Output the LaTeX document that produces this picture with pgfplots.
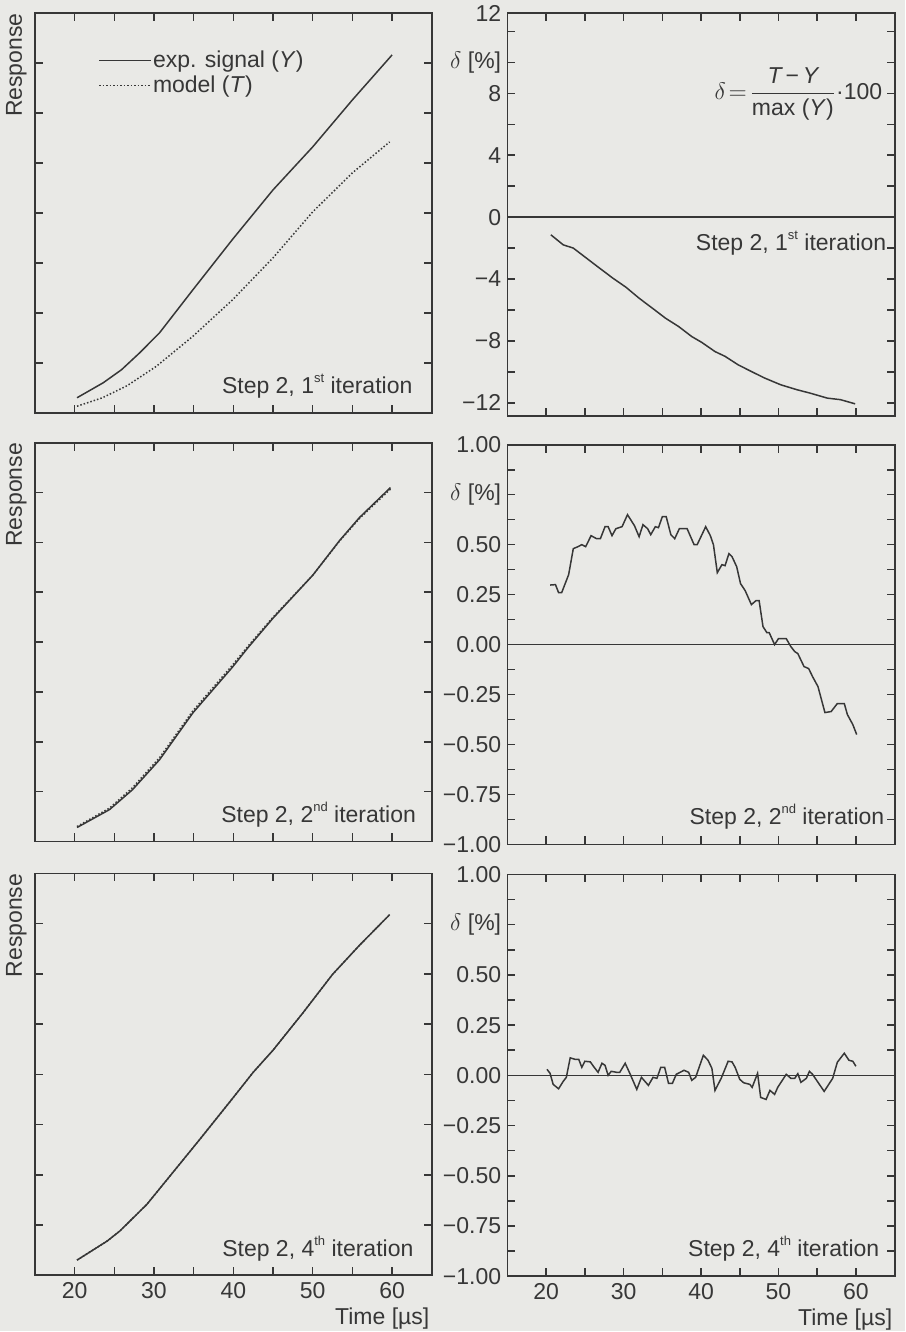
\documentclass[border=0pt]{standalone}
\usepackage{amsmath}
\usepackage{fontspec}
\setmainfont{Liberation Sans}
\usepackage{pgfplots}
\pgfplotsset{compat=1.18}

\definecolor{ink}{RGB}{55,55,55}
\definecolor{paper}{RGB}{233,233,230}
\newcommand{\lbl}{\fontsize{11.5}{13}\selectfont}
\newcommand{\sups}[1]{\raisebox{0.9ex}{\fontsize{6.5}{7}\selectfont #1}}

\tikzset{stepnote/.style={anchor=south east, inner sep=0pt, ink, font=\lbl}}

\pgfplotsset{
  panel/.style={
    scale only axis, clip=false,
    xmin=15, xmax=65,
    xtick={20,30,40,50,60}, minor xtick={25,35,45,55},
    tick align=inside, major tick length=4pt, minor tick length=4pt,
    axis line style={ink, line width=0.9pt},
    tick style={ink, line width=0.8pt},
    tick label style={ink, font=\lbl},
    label style={ink, font=\lbl},
    /pgf/number format/assume math mode=true,
  },
  left panel/.style={
    panel, width=198.5pt, ymin=0, ymax=8,
    ytick={1,2,3,4,5,6,7}, yticklabels={},
    ylabel={Response},
    ylabel style={at={([xshift=-4pt]rel axis cs:0,1)}, anchor=south east, inner sep=0pt},
  },
  right panel/.style={
    panel, width=193.7pt,
    yticklabel style={inner sep=1pt, xshift=-2pt},
  },
  unit panel/.style={
    right panel, ymin=-1, ymax=1,
    ytick={-1,-0.75,-0.5,-0.25,0,0.25,0.5,0.75,1},
    yticklabels={−1.00,−0.75,−0.50,−0.25,0.00,0.25,0.50,{$\delta$ [\%]},1.00},
    minor y tick num=1,
  },
  bottom row/.style={
    xlabel={Time [µs]},
    xlabel style={at={(ticklabel cs:1)}, anchor=north east, inner sep=1pt},
  },
  curve/.style={ink, line width=0.75pt},
}

\begin{document}
\begin{tikzpicture}
\fill[paper] (-17.5pt,6.5pt) rectangle (435.5pt,-659.5pt);

% top left
\begin{axis}[left panel, at={(0pt,0pt)}, anchor=north west, height=200pt,
  xticklabels={},
  legend style={draw=none, fill=none, at={(rel axis cs:0,1)}, anchor=north west,
    xshift=28.5pt, yshift=-16pt, font=\lbl, text=ink, row sep=1.5pt,
    nodes={inner sep=0.6pt}},
  legend cell align=left,
  legend image code/.code={\draw[#1] (0pt,0pt) -- (26pt,0pt);},
]
\addplot[curve] coordinates {
  (20.3,0.30)(23.6,0.60)(25.9,0.86)(28.2,1.20)(30.7,1.60)(34.9,2.46)
  (39.9,3.47)(45.0,4.46)(50.0,5.32)(55.0,6.26)(60.0,7.16)
};
\addlegendentry{exp. signal (\textit{Y})}
\addplot[curve, densely dotted] coordinates {
  (20.3,0.13)(23.5,0.30)(26.6,0.54)(30.3,0.93)(34.9,1.53)(39.9,2.26)
  (45.0,3.10)(50.0,4.02)(55.0,4.80)(59.7,5.42)
};
\addlegendentry{model (\textit{T})}
\node[stepnote] at ([xshift=-9.5pt,yshift=7pt]rel axis cs:1,0) {Step 2, 1\sups{st} iteration};
\end{axis}

% top right
\begin{axis}[right panel, at={(236.4pt,0pt)}, anchor=north west, height=201.5pt,
  ymin=-12.84, ymax=13.2,
  ytick={-12,-8,-4,0,4,8,10,12},
  yticklabels={−12,−8,−4,0,4,8,{$\delta$ [\%]},{}},
  minor ytick={-10,-6,-2,2,6},
  xticklabels={},
]
\addplot[curve] coordinates {(15,0)(65,0)};
\addplot[curve] coordinates {
  (20.6,-1.14)(22.2,-1.79)(23.5,-2.00)(25.2,-2.65)(26.9,-3.30)(28.6,-3.94)
  (30.3,-4.53)(32.0,-5.24)(33.7,-5.88)(35.4,-6.53)(37.1,-7.07)(38.8,-7.72)
  (40.1,-8.10)(41.8,-8.69)(43.1,-9.00)(44.8,-9.55)(46.5,-9.98)(48.2,-10.40)
  (50.3,-10.84)(52.4,-11.16)(54.1,-11.38)(56.3,-11.70)(58.0,-11.80)(59.9,-12.07)
};
\node[anchor=east, inner sep=0pt, ink, font=\lbl] at ([xshift=-3pt]rel axis cs:0,1) {12};
\node[anchor=north east, inner sep=0pt, ink, font=\lbl] at ([xshift=-6pt,yshift=-27pt]rel axis cs:1,1)
  {$\delta\!=\!\dfrac{\textit{T}\,\text{−}\,\textit{Y}}{\text{max (\textit{Y})}}\text{·100}$};
\node[anchor=north east, inner sep=0pt, ink, font=\lbl] at ([xshift=-4pt,yshift=-7pt]axis cs:65,0)
  {Step 2, 1\sups{st} iteration};
\end{axis}

% middle left
\begin{axis}[left panel, at={(0pt,-215pt)}, anchor=north west, height=199.5pt,
  xticklabels={},
]
\addplot[curve] coordinates {
  (20.3,0.28)(24.4,0.64)(27.3,1.04)(30.7,1.64)(34.9,2.58)(39.9,3.50)
  (41.8,3.88)(45.0,4.48)(50.0,5.34)(53.4,6.04)(55.9,6.50)(59.8,7.10)
};
\addplot[curve, densely dotted] coordinates {
  (20.3,0.30)(24.4,0.67)(27.3,1.08)(30.7,1.68)(34.9,2.62)(39.9,3.54)
  (41.8,3.91)(45.0,4.50)(50.0,5.34)(53.4,6.03)(55.9,6.48)(59.8,7.07)
};
\node[stepnote] at ([xshift=-7.7pt,yshift=7pt]rel axis cs:1,0) {Step 2, 2\sups{nd} iteration};
\end{axis}

% middle right
\begin{axis}[unit panel, at={(236.4pt,-216pt)}, anchor=north west, height=200pt,
  xticklabels={},
]
\addplot[curve] coordinates {(15,0)(65,0)};
\addplot[curve] coordinates {
  (20.5,0.298)(21.2,0.30)(21.6,0.26)(22.0,0.26)(22.9,0.35)(23.5,0.48)
  (24.1,0.49)(24.6,0.50)(25.1,0.49)(25.8,0.545)(26.5,0.53)(27.0,0.53)
  (27.6,0.59)(28.0,0.59)(28.5,0.545)(29.0,0.58)(29.8,0.59)(30.5,0.65)
  (31.4,0.595)(32.0,0.54)(32.5,0.60)(33.1,0.58)(33.5,0.55)(34.1,0.59)
  (34.5,0.585)(35.0,0.64)(35.5,0.64)(36.1,0.55)(36.6,0.53)(37.2,0.58)
  (38.2,0.58)(39.1,0.50)(39.5,0.50)(40.6,0.59)(41.2,0.545)(41.6,0.50)
  (42.1,0.36)(42.7,0.40)(43.1,0.395)(43.6,0.455)(44.0,0.44)(44.6,0.39)
  (45.1,0.305)(45.7,0.27)(46.5,0.20)(47.1,0.22)(47.5,0.22)(48.0,0.09)
  (48.5,0.06)(48.8,0.06)(49.5,0.00)(50.0,0.03)(51.0,0.03)(51.6,-0.01)
  (52.1,-0.035)(52.5,-0.045)(53.3,-0.11)(53.9,-0.12)(54.4,-0.16)(55.1,-0.21)
  (56.0,-0.34)(56.8,-0.335)(57.6,-0.295)(58.5,-0.295)(58.9,-0.35)(59.6,-0.40)
  (60.1,-0.45)
};
\node[stepnote] at ([xshift=-5pt,yshift=7.5pt]rel axis cs:1,0) {Step 2, 2\sups{nd} iteration};
\end{axis}

% bottom left
\begin{axis}[left panel, bottom row, at={(0pt,-430.5pt)}, anchor=north west, height=201pt]
\addplot[curve] coordinates {
  (20.3,0.30)(24.1,0.68)(25.7,0.88)(29.1,1.41)(32.4,2.05)(35.8,2.71)
  (39.9,3.52)(42.5,4.04)(45.0,4.48)(48.8,5.23)(52.5,5.99)(55.9,6.57)(59.7,7.18)
};
\addplot[curve, densely dotted] coordinates {
  (20.3,0.30)(24.1,0.68)(25.7,0.88)(29.1,1.41)(32.4,2.05)(35.8,2.71)
  (39.9,3.52)(42.5,4.04)(45.0,4.48)(48.8,5.23)(52.5,5.99)(55.9,6.57)(59.7,7.18)
};
\node[stepnote] at ([xshift=-9pt,yshift=7pt]rel axis cs:1,0) {Step 2, 4\sups{th} iteration};
\end{axis}

% bottom right
\begin{axis}[unit panel, bottom row, at={(236.4pt,-431pt)}, anchor=north west, height=201pt]
\addplot[curve] coordinates {(15,0)(65,0)};
\addplot[curve] coordinates {
  (20.1,0.03)(20.5,0.01)(20.9,-0.045)(21.6,-0.067)(22.2,-0.03)(22.6,-0.01)
  (23.1,0.087)(23.7,0.08)(24.2,0.08)(24.6,0.04)(25.0,0.07)(25.7,0.067)
  (26.1,0.045)(26.7,0.015)(27.2,0.06)(27.6,0.05)(28.0,0.00)(28.4,0.02)
  (29.1,0.015)(29.5,0.015)(30.2,0.06)(30.8,0.01)(31.7,-0.07)(32.3,-0.01)
  (33.2,-0.05)(33.8,-0.01)(34.3,-0.015)(34.8,0.04)(35.3,0.04)(35.8,-0.04)
  (36.3,-0.04)(36.8,0.005)(37.8,0.025)(38.4,0.015)(38.8,-0.025)(39.3,-0.01)
  (40.3,0.10)(40.9,0.075)(41.4,0.035)(41.8,-0.075)(42.6,-0.015)(43.5,0.07)
  (44.0,0.067)(44.4,0.04)(45.0,-0.02)(45.5,-0.037)(46.3,-0.045)(46.6,-0.06)
  (47.3,0.01)(47.7,-0.11)(48.4,-0.12)(48.9,-0.075)(49.5,-0.095)(49.9,-0.06)
  (51.0,0.005)(51.6,-0.015)(52.1,-0.015)(52.5,0.008)(52.9,-0.035)(53.6,-0.015)
  (54.0,0.02)(54.4,0.005)(55.9,-0.08)(57.0,-0.015)(57.6,0.065)(58.5,0.11)
  (59.1,0.075)(59.6,0.07)(60.0,0.045)
};
\node[stepnote] at ([xshift=-7.5pt,yshift=7.5pt]rel axis cs:1,0) {Step 2, 4\sups{th} iteration};
\end{axis}
\end{tikzpicture}
\end{document}
